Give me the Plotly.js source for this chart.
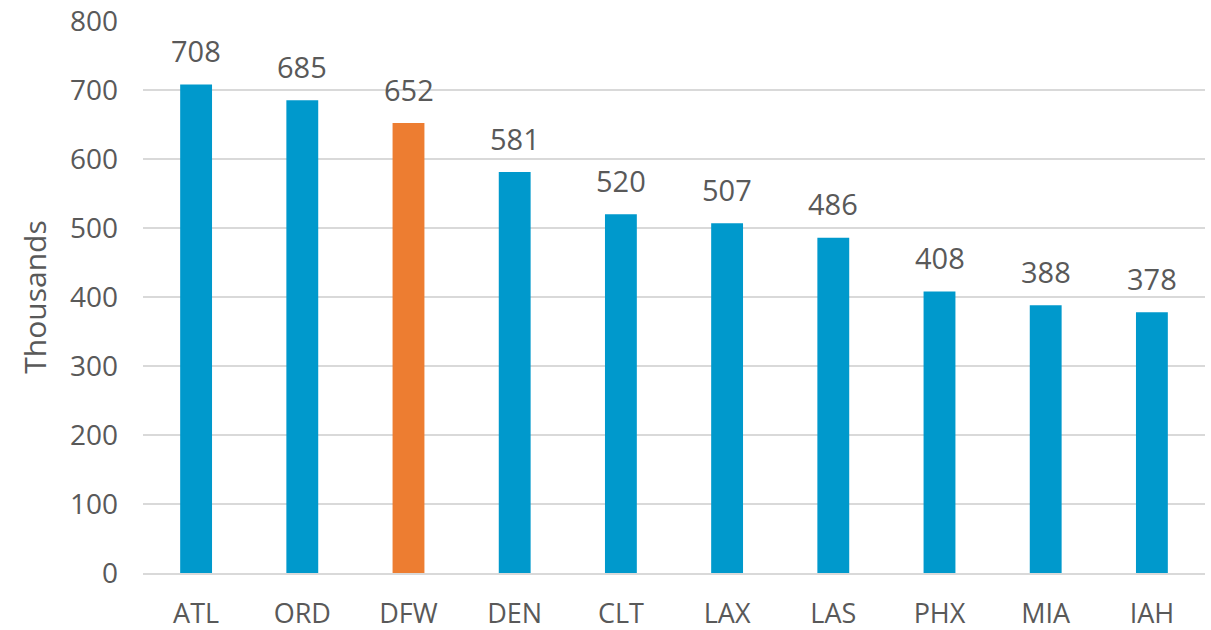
<!DOCTYPE html>
<html>
<head>
<meta charset="utf-8">
<script src="https://cdn.plot.ly/plotly-3.0.1.min.js"></script>
<style>html,body{margin:0;padding:0;background:#fff;}#chart{width:1211px;height:630px;}</style>
</head>
<body>
<div id="chart"></div>
<script>
var airports = ["ATL","ORD","DFW","DEN","CLT","LAX","LAS","PHX","MIA","IAH"];
var passengers = [708,685,652,581,520,507,486,408,388,378];
var highlight = "DFW";
var yTicks = [0,100,200,300,400,500,600,700,800];

var blue = "#0099CC", orange = "#ED7D31", grey = "#595959";
var fontFam = "'Open Sans', 'Noto Sans', sans-serif";

var colors = airports.map(function(a){ return a === highlight ? orange : blue; });

var trace = {
  type: "bar",
  x: airports,
  y: passengers,
  marker: {color: colors},
  hoverinfo: "x+y"
};

var annotations = airports.map(function(a, i){
  return {
    x: a, y: passengers[i], xref: "x", yref: "y",
    text: String(passengers[i]),
    showarrow: false, yanchor: "middle", yshift: 34,
    font: {family: fontFam, size: 29, color: grey}
  };
});

var layout = {
  width: 1211, height: 630,
  margin: {l: 143, r: 6, t: 21, b: 57, pad: 0},
  paper_bgcolor: "#fff", plot_bgcolor: "#fff",
  bargap: 0.7,
  showlegend: false,
  font: {family: fontFam, size: 28, color: grey},
  xaxis: {
    type: "category",
    showgrid: false,
    showline: true, linecolor: "#d9d9d9", linewidth: 2,
    ticks: "", tickfont: {family: fontFam, size: 27, color: grey},
    ticklabelstandoff: 16
  },
  yaxis: {
    range: [0, 800],
    tickvals: yTicks,
    ticktext: yTicks.map(String),
    showgrid: true, gridcolor: "#d9d9d9", gridwidth: 2,
    zeroline: false, showline: false, ticks: "",
    tickfont: {family: fontFam, size: 28, color: grey},
    ticklabelstandoff: 24,
    title: {text: "Thousands", font: {family: fontFam, size: 30, color: grey}, standoff: 14}
  },
  annotations: annotations
};

Plotly.newPlot("chart", [trace], layout, {displayModeBar: false, staticPlot: true});
</script>
</body>
</html>
